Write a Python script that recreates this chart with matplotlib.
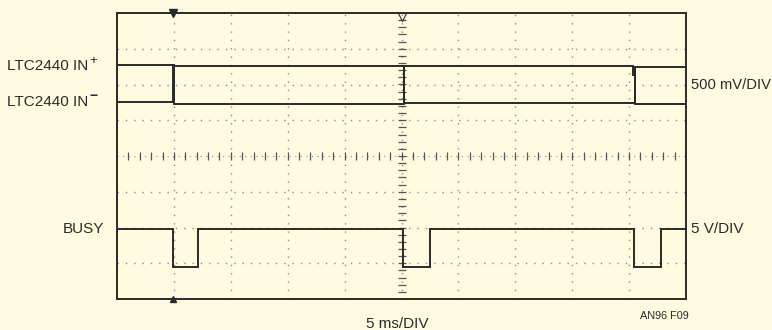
import numpy as np
import matplotlib
matplotlib.use('Agg')
import matplotlib.pyplot as plt

# scope screen: 10 x 8 divisions, values in divisions
n_xdiv = 10
n_ydiv = 8

# LTC2440 IN+ trace (time in div, level in div)
in_p_t = [0, 0.99, 0.99, 9.07, 9.07, 9.09, 9.09, 10]
in_p_v = [6.55, 6.55, 6.51, 6.51, 6.26, 6.26, 6.50, 6.50]

# LTC2440 IN- trace, with the sampling spikes up to IN+
in_m_t = [0, 0.99, 0.99, 0.995, 0.995, 5.04, 5.04, 5.045, 5.045, 9.10, 9.10, 9.105, 9.105, 10]
in_m_v = [5.51, 5.51, 6.55, 6.55, 5.45, 5.45, 6.51, 6.51, 5.47, 5.47, 6.50, 6.50, 5.46, 5.46]

# BUSY trace
busy_fall = [0.98, 5.03, 9.09]
busy_rise = [1.42, 5.50, 9.56]
busy_high = 1.97
busy_low = 0.90

busy_t = [0]
busy_v = [busy_high]
for f, r in zip(busy_fall, busy_rise):
    busy_t += [f, f, r, r]
    busy_v += [busy_high, busy_low, busy_low, busy_high]
busy_t.append(n_xdiv)
busy_v.append(busy_high)

bg = '#fefbe1'
ink = '#2a2a2a'

plt.rcParams['font.family'] = ['Liberation Sans', 'DejaVu Sans']

W, H = 772, 330
fig = plt.figure(figsize=(W / 100, H / 100), dpi=100, facecolor=bg)
ax = fig.add_axes([117 / W, (H - 299) / H, 569 / W, 286 / H])
ax.set_facecolor(bg)
ax.set_xlim(0, n_xdiv)
ax.set_ylim(0, n_ydiv)
ax.set_xticks([])
ax.set_yticks([])
for s in ax.spines.values():
    s.set_linewidth(1.4)
    s.set_color(ink)

# dotted graticule
grid_kw = dict(color='#8a8a8a', lw=1.0, linestyle=(0, (1, 5)), zorder=1)
for x in range(1, n_xdiv):
    ax.axvline(x, **grid_kw)
for y in range(1, n_ydiv):
    if y != n_ydiv // 2:
        ax.axhline(y, **grid_kw)
ax.axhline(n_ydiv / 2, color='#8a8a8a', lw=0.8, linestyle=(0, (1, 4)), zorder=1)

# centre axes with minor ticks
minor_x = np.arange(0.2, n_xdiv, 0.2)
minor_y = np.arange(0.2, n_ydiv, 0.2)
ax.plot(minor_x, np.full(len(minor_x), n_ydiv / 2), ls='none', marker='|',
        ms=6, mew=0.9, color='#555555', zorder=2)
ax.plot(np.full(len(minor_y), n_xdiv / 2), minor_y, ls='none', marker='_',
        ms=6, mew=0.9, color='#555555', zorder=2)

# traces
trace_kw = dict(color=ink, lw=1.4, solid_joinstyle='miter', zorder=3)
ax.plot(in_p_t, in_p_v, **trace_kw)
ax.plot(in_m_t, in_m_v, **trace_kw)
ax.plot(busy_t, busy_v, **trace_kw)

# trigger / centre markers
ax.plot([busy_fall[0]], [n_ydiv], marker='v', ms=6, color=ink, clip_on=False, zorder=4)
ax.plot([busy_fall[0]], [0], marker='^', ms=5, color=ink, clip_on=False, zorder=4)
ax.plot([n_xdiv / 2], [n_ydiv - 0.12], marker='v', ms=6, mfc='none', mec=ink,
        mew=0.8, clip_on=False, zorder=4)

# labels
fs = 11
fig.text(7 / W, 1 - 66 / H, 'LTC2440 IN', fontsize=fs, color=ink, va='center')
fig.text(89.5 / W, 1 - 61 / H, '+', fontsize=9.5, color=ink, va='center')
fig.text(7 / W, 1 - 102 / H, 'LTC2440 IN', fontsize=fs, color=ink, va='center')
fig.text(89 / W, 1 - 96 / H, '\u2212', fontsize=10, fontweight='bold', color=ink, va='center')
fig.text(104 / W, 1 - 229 / H, 'BUSY', fontsize=fs, color=ink, va='center', ha='right')
fig.text(691 / W, 1 - 85 / H, '500 mV/DIV', fontsize=10.6, color=ink, va='center')
fig.text(691 / W, 1 - 229 / H, '5 V/DIV', fontsize=fs, color=ink, va='center')
fig.text(397.5 / W, 1 - 324 / H, '5 ms/DIV', fontsize=fs, color=ink, va='center', ha='center')
fig.text(664 / W, 1 - 316 / H, 'AN96 F09', fontsize=7.8, color=ink, va='center', ha='center')

fig.savefig('out.png', dpi=100, facecolor=bg)
